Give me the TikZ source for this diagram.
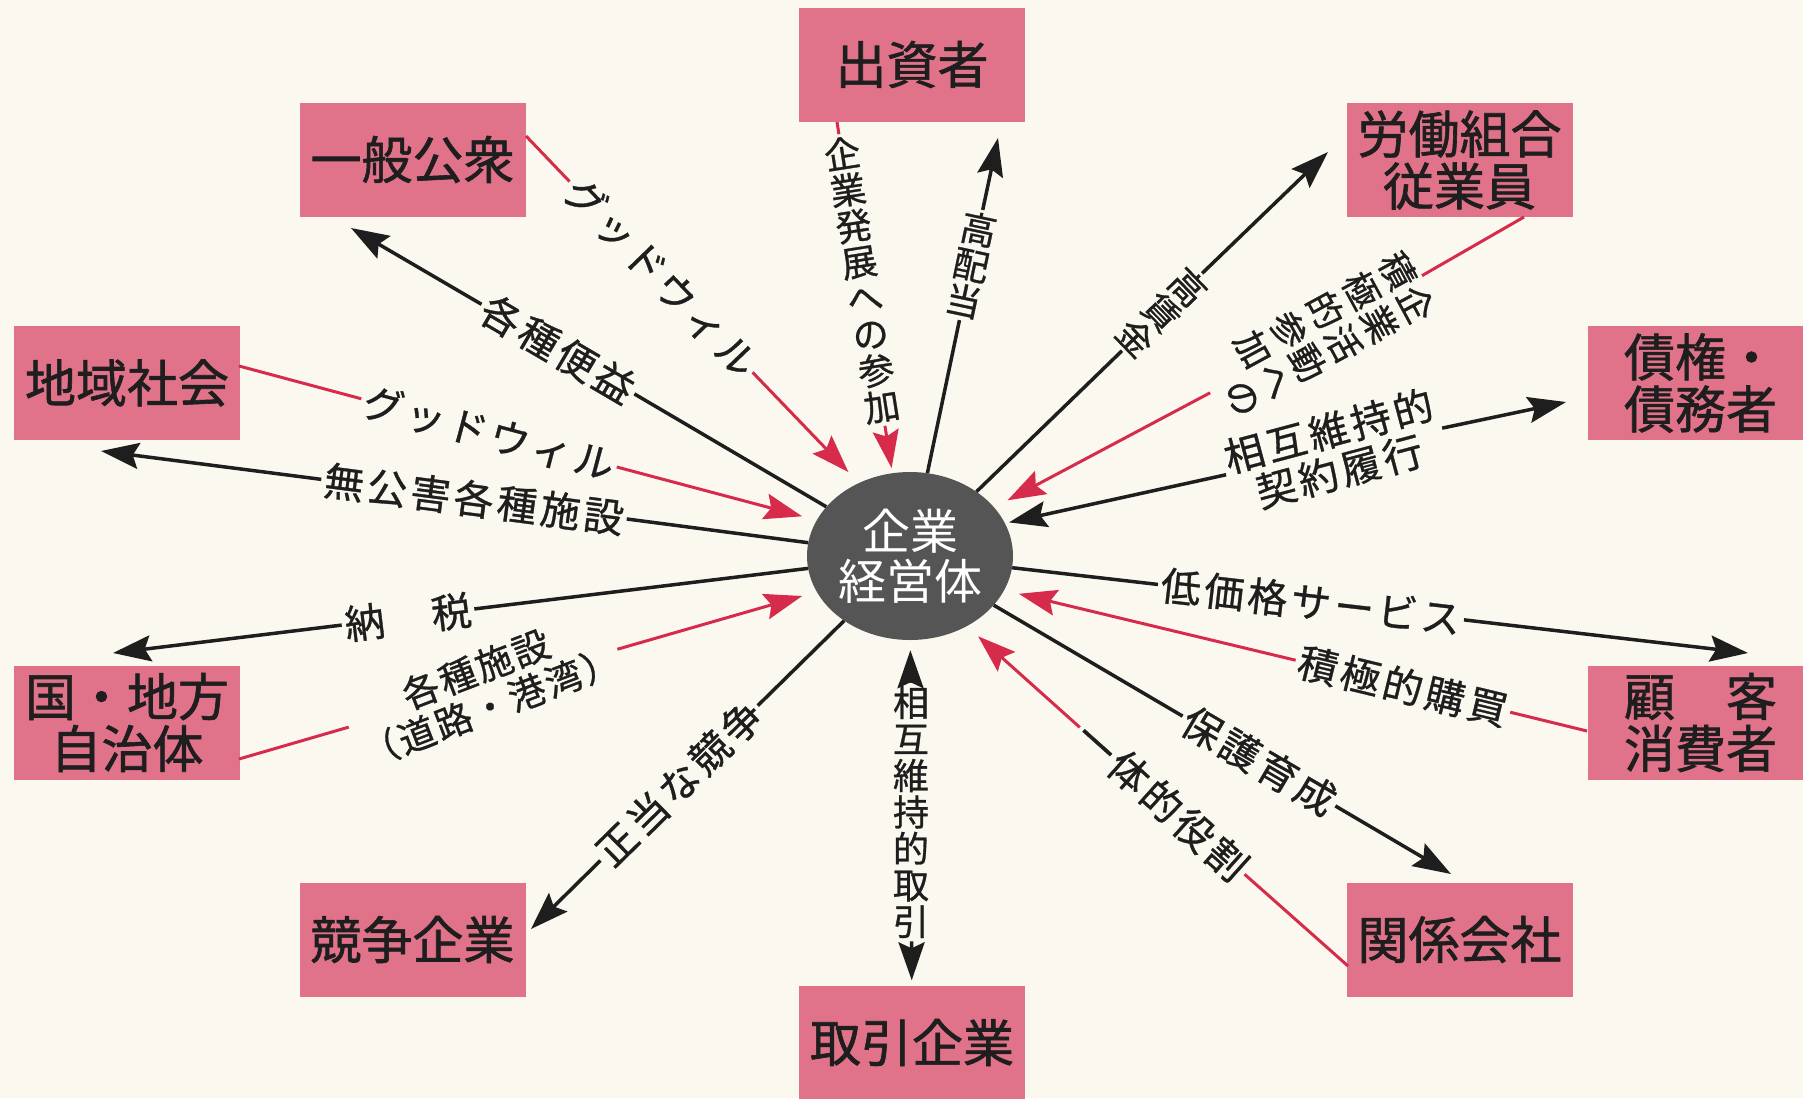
\documentclass[tikz,border=0pt]{standalone}
\usepackage{fontspec}
\setmainfont{Noto Sans CJK JP}
\usetikzlibrary{arrows.meta,shapes.geometric}
\definecolor{bg}{HTML}{FBF9EF}
\definecolor{boxpink}{HTML}{E0728A}
\definecolor{linered}{HTML}{D62B4B}
\definecolor{ink}{HTML}{1E1E1E}
\definecolor{hubgray}{HTML}{555555}
\begin{document}
\begin{tikzpicture}[x=1pt,y=-1pt,
  ent/.style={fill=boxpink, minimum width=226pt, minimum height=114pt, inner sep=0pt, align=center, text=ink, font={\fontsize{51}{52}\selectfont\addfontfeature{FakeBold=1.2}}},
  hubst/.style={ellipse, fill=hubgray, minimum width=206pt, minimum height=168pt, inner sep=0pt, align=center, text=white, font={\fontsize{48}{50}\selectfont}},
  blk/.style={draw=ink, line width=3.5pt},
  rl/.style={draw=linered, line width=3pt},
  tipk/.style={-{Stealth[length=38pt,width=26pt,inset=6pt]}},
  lblh/.style={inner sep=3pt, text=ink, font={\fontsize{40}{42}\selectfont\addfontfeature{LetterSpace=9,FakeBold=0.8}}},
  lblv/.style={inner sep=3pt, text=ink, align=center, font={\fontsize{36}{36.5}\selectfont\addfontfeature{FakeBold=0.8}}}
]
\useasboundingbox (0,0) rectangle (1803,1098);
\fill[bg] (0,0) rectangle (1803,1098);

% hub and entities
\node[hubst] (C) at (910,556) {企業\\経営体};
\node[ent] (Btop) at (912,64.5) {出資者};
\node[ent] (Bipp) at (412.5,159.5) {一般公衆};
\node[ent] (Brou) at (1459.5,160) {労働組合\\従業員};
\node[ent] (Bchi) at (127,383) {地域社会};
\node[ent] (Bsai) at (1700.5,383) {債権・\\債務者};
\node[ent] (Bkun) at (127,722.5) {国・地方\\自治体};
\node[ent] (Bkok) at (1700.5,722.5) {顧　客\\消費者};
\node[ent] (Bkyo) at (412.5,939.5) {競争企業};
\node[ent] (Bkan) at (1459.5,939.5) {関係会社};
\node[ent] (Btor) at (912,1042.5) {取引企業};

% arrow ends near entities
\coordinate (t1) at (998,138);
\coordinate (t2) at (351,228);
\coordinate (t3) at (101,451);
\coordinate (t4) at (113,653);
\coordinate (t5) at (531,929);
\coordinate (t7) at (1451,874);
\coordinate (t8) at (1748,653);
\coordinate (t9) at (1566,402);
\coordinate (t10) at (1328,152);
% red line starts on entity edges
\coordinate (s1) at (837,122);
\coordinate (s2) at (526,136);
\coordinate (s3) at (239,366);
\coordinate (s4) at (239,759);
\coordinate (s5) at (1348,966);
\coordinate (s6) at (1587,731);
\coordinate (s7) at (1524,217);

% black labels
\node[lblv, rotate=-12] (k1) at (971,265) {高\\配\\当};
\node[lblh, rotate=-30.4] (k2) at (558,349) {各種便益};
\node[lblh, rotate=-7.4] (k3) at (474,499) {無公害各種施設};
\node[lblh, rotate=6.9] (k4) at (408,617) {納　税};
\node[lblh, rotate=44.5] (k5) at (679,783) {正当な競争};
\node[lblv] (k6) at (911,812) {相\\互\\維\\持\\的\\取\\引};
\node[lblh, rotate=-30.4] (k7) at (1259,761) {保護育成};
\node[lblh, rotate=-6.6] (k8) at (1311,602) {低価格サービス};
\node[lblh, rotate=15, align=center] (k9) at (1334,451) {相互維持的\\契約履行};
\node[lblv, rotate=-46] (k10) at (1162,312) {高\\賃\\金};

% red labels
\node[lblv, rotate=8.9] (r1) at (862,280) {企\\業\\発\\展\\へ\\の\\参\\加};
\node[lblh, rotate=-46.2] (r2) at (661,277) {グッドウィル};
\node[lblh, rotate=-14.9] (r3) at (489,433) {グッドウィル};
\node[lblh, rotate=21, align=center, font={\fontsize{37}{40}\selectfont\addfontfeature{LetterSpace=6,FakeBold=0.8}}] (r4) at (483,688) {各種施設\\（道路・港湾）};
\node[lblh, rotate=-41.8] (r5) at (1162,801) {一体的役割};
\node[lblh, rotate=-13.6] (r6) at (1403,686) {積極的購買};
\node[lblv, rotate=-61.5, inner sep=2pt] (r7) at (1317,336) {\begin{tabular}[t]{@{}c@{}}積\\極\\的\\参\\加\end{tabular}\hspace{2pt}\begin{tabular}[t]{@{}c@{}}企\\業\\活\\動\\へ\\の\end{tabular}};

% black connectors
\draw[blk] (C) -- (k1); \draw[blk,tipk] (k1) -- (t1);
\draw[blk] (C) -- (k2); \draw[blk,tipk] (k2) -- (t2);
\draw[blk] (C) -- (k3); \draw[blk,tipk] (k3) -- (t3);
\draw[blk] (C) -- (k4); \draw[blk,tipk] (k4) -- (t4);
\draw[blk] (C) -- (k5); \draw[blk,tipk] (k5) -- (t5);
\draw[blk,tipk,shorten >=10pt] (k6) -- (C); \draw[blk,tipk,shorten >=5pt] (k6) -- (Btor);
\draw[blk] (C) -- (k7); \draw[blk,tipk] (k7) -- (t7);
\draw[blk] (C) -- (k8); \draw[blk,tipk] (k8) -- (t8);
\draw[blk,tipk,shorten >=4pt] (k9) -- (C.19.4); \draw[blk,tipk] (k9) -- (t9);
\draw[blk] (C) -- (k10); \draw[blk,tipk] (k10) -- (t10);

% red connectors
\draw[rl] (s1) -- (r1); \draw[rl,tipk,shorten >=5pt] (r1) -- (C.102);
\draw[rl] (s2) -- (r2); \draw[rl,tipk,shorten >=15pt] (r2) -- (C.125);
\draw[rl] (s3) -- (r3); \draw[rl,tipk,shorten >=15pt] (r3) -- (C.159);
\draw[rl] (s4) -- (r4); \draw[rl,tipk,shorten >=15pt] (r4) -- (C.201);
\draw[rl] (s5) -- (r5); \draw[rl,tipk,shorten >=15pt] (r5) -- (C.-51.6);
\draw[rl] (s6) -- (r6); \draw[rl,tipk,shorten >=15pt] (r6) -- (C.-20);
\draw[rl] (s7) -- (r7); \draw[rl,tipk,shorten >=15pt] (r7) -- (C.30.5);
\end{tikzpicture}
\end{document}
